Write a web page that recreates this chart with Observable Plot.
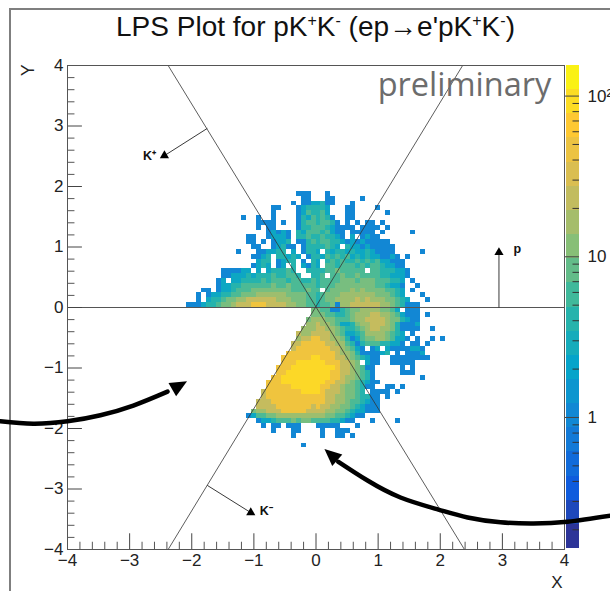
<!DOCTYPE html>
<html>
<head>
<meta charset="utf-8">
<script src="https://cdn.jsdelivr.net/npm/d3@7"></script>
<script src="https://cdn.jsdelivr.net/npm/@observablehq/plot@0.6"></script>
<style>
html,body{margin:0;padding:0;background:#fff;}
#page{position:relative;width:610px;height:591px;overflow:hidden;font-family:"Liberation Sans",Arial,sans-serif;}
#border{position:absolute;left:8.5px;top:7.5px;width:800px;height:800px;border:2px solid #7f7f7f;box-sizing:border-box;}
#title{position:absolute;left:0;top:12px;width:631px;text-align:center;font-size:28px;line-height:30px;color:#111;white-space:nowrap;}
#title sup{font-size:16px;line-height:0;vertical-align:baseline;position:relative;top:-10px;}
.layer{position:absolute;left:0;top:0;}
</style>
</head>
<body>
<div id="page">
<div id="border"></div>
<div id="colorbar" class="layer"></div>
<div id="main" class="layer"></div>
<div id="title">LPS Plot for pK<sup>+</sup>K<sup>-</sup> (ep→e'pK<sup>+</sup>K<sup>-</sup>)</div>
</div>
<script>
// Histogram: bin width 0.08. Each row is "left|right": the last left char is the bin just left of x=0,
// the first right char the bin just right of x=0. Characters are read levels, "." is an empty bin.
const binWidth = 0.08;
const levelCounts = [0, 1, 2.4, 4, 6.5, 10, 15, 24, 50, 85];

// rows above y=0, from y index 23 down to 0
const upperRows = [
"111.|..1",
"11.|..11.....1",
"1.112|2311...1",
"11...1233|332...11....1",
"1....1243|342...11......1",
"1..1..1....1324|3431..11",
"1111.1..1344|34431.1.1.11.1",
"1.11....1334|44321111.1111.1",
"12121.3244|434211.11111.1.....1",
"11..12221.3343|343321.2.1211",
"11.1.1223.1134|344332121211111",
"11..12311.133|33432.3221211111",
"1...112233.2.133|2.32332322321111.....1",
"1123.33232.13|32434342323221121.1",
"233.1233.1.3|2.3434334343422111",
"1232.12.3.213|2.4434443434432211",
"111122.2.233343..33|3344544444.44333221",
"1122232333433443..3|34.4454454444332221",
"12.22333343444344334|344445554555444332.1",
"12233444444544544444|344455555555443221..1",
"11.12234445555555544454|4.4555565655554432.1",
"1.1223344555666666555544|345556666666555432...1",
"1.2334556677777766655544|3455666676766655432...1",
"11123345567778887777665544|344516677777766543111"
];

// rows below y=0, from the row touching y=0 downwards
const lowerRows = [
"5|544113455666655 42.111",
"5|554433456667766542111.1",
"56|665544456677776553211",
"66|766542235667776531112",
"666|776654334567766531111..1",
"7667|777654223466665432.1",
"6778|8776653124556654221.1..1.1",
"77888|887766431344433221.11.1",
"78888|8887765421.12.21111221",
"888888|888876653111123.1.1112",
"8888889|9888776543211..11111111",
"8889999|998887765.211..11111",
"88899999|999987765411.....1.1",
"88999999|999887765431.....111",
"889999999|999887665431.........1",
"8889999999|9988776543211",
"8888899999|988776554311..11.1",
"78888888999|9877765543.1111.1",
"78888888888|8877665543311.1",
"777888888888|8877665443211",
"777788888887|8776655432111",
"5667778888877|7766554322111",
"12445566666666|6655443211",
"122344454554|44433211...1....1",
"1.11.111...|11111...1",
"1...11...|.1..111",
"1....|.1..11.1",
"|",
"1..|"
];

const wedgeA = [-2.38, 4, 2.39, -4];
const wedgeB = [2.36, 4, -2.38, -4];
const arrow1X = [-5.08, -4.55, -4.0, -3.47, -2.94, -2.39];
const arrow1Y = [-1.88, -1.92, -1.88, -1.78, -1.62, -1.39];
const arrow2X = [4.74, 4.05, 3.5, 2.97, 2.44, 1.97, 1.36, 0.83, 0.36];
const arrow2Y = [-3.44, -3.54, -3.57, -3.55, -3.47, -3.34, -3.14, -2.86, -2.55];
const directionLinks = [
  {x1: -1.75, y1: 2.96, x2: -2.44, y2: 2.51},
  {x1: -1.75, y1: -2.94, x2: -1.05, y2: -3.39},
  {x1: 2.945, y1: 0, x2: 2.945, y2: 0.91}
];
const directionLabels = [
  {x: -2.68, y: 2.5, t: "K⁺"},
  {x: -0.8, y: -3.37, t: "K⁻"},
  {x: 3.24, y: 0.96, t: "p"}
];
const axisValues = [-4, -3, -2, -1, 0, 1, 2, 3, 4];
const minorValues = d3.range(-20, 21).filter(i => i % 5 !== 0).map(i => i / 5);
const colorDomain = [0.153, 155];
const birdColors = ["#352A87", "#0F5CDD", "#1481D6", "#06A4CA", "#2EB7A4", "#87BF77", "#D1BB59", "#FEC832", "#F9FB0E"];
const colorbarMajor = [1, 10, 100];
const colorbarMinor = [0.2, 0.3, 0.4, 0.5, 0.6, 0.7, 0.8, 0.9, 2, 3, 4, 5, 6, 7, 8, 9, 20, 30, 40, 50, 60, 70, 80, 90];
const colorbarBandCount = 20;

const cells = [];
function addRow(text, rowIndex) {
  const [left, right] = text.replace(/ /g, "").split("|");
  [...left].forEach((c, i) => push(c, i - left.length, rowIndex));
  [...right].forEach((c, i) => push(c, i, rowIndex));
}
function push(c, col, rowIndex) {
  if (c === ".") return;
  cells.push({x1: col * binWidth, x2: (col + 1) * binWidth, y1: rowIndex * binWidth, y2: (rowIndex + 1) * binWidth, n: levelCounts[+c]});
}
upperRows.forEach((t, i) => addRow(t, upperRows.length - 1 - i));
lowerRows.forEach((t, i) => addRow(t, -1 - i));

const interpolate = d3.piecewise(d3.interpolateRgb, birdColors);
const colorOptions = {type: "log", domain: colorDomain, interpolate};
const noBg = {background: "transparent", fontFamily: '"Liberation Sans",Arial,sans-serif'};

const headSymbol = {draw(c, size) {
  const r = Math.sqrt(size / Math.PI);
  c.moveTo(0, -r * 1.3);
  c.lineTo(r * 0.9, r * 0.7);
  c.lineTo(-r * 0.9, r * 0.7);
  c.closePath();
}};
const pts = (xs, ys) => xs.map((x, i) => ({x, y: ys[i]}));

const main = Plot.plot({
  width: 610, height: 591,
  marginLeft: 67, marginRight: 46, marginTop: 65, marginBottom: 42,
  style: noBg,
  x: {domain: [-4, 4]},
  y: {domain: [-4, 4]},
  color: colorOptions,
  marks: [
    Plot.rect(cells, {x1: "x1", x2: "x2", y1: "y1", y2: "y2", fill: "n", shapeRendering: "crispEdges"}),
    Plot.ruleY([0], {stroke: "#555", strokeWidth: 1}),
    Plot.link([wedgeA, wedgeB], {x1: d => d[0], y1: d => d[1], x2: d => d[2], y2: d => d[3], stroke: "#333", strokeWidth: 0.8}),
    Plot.ruleX(axisValues, {x: d => d, y1: -4, y2: -3.74, stroke: "#444"}),
    Plot.ruleX(minorValues, {x: d => d, y1: -4, y2: -3.88, stroke: "#555"}),
    Plot.ruleY(axisValues, {y: d => d, x1: -4, x2: -3.76, stroke: "#444"}),
    Plot.ruleY(minorValues, {y: d => d, x1: -4, x2: -3.88, stroke: "#555"}),
    Plot.axisX({ticks: axisValues, tickSize: 0, tickPadding: 4, fontSize: 17, fill: "#222", label: null, tickFormat: d3.format("d")}),
    Plot.axisY({ticks: axisValues, tickSize: 0, tickPadding: 4, fontSize: 17, fill: "#222", label: null, tickFormat: d3.format("d")}),
    Plot.frame({stroke: "#555", strokeWidth: 1}),
    Plot.text(["X"], {x: 3.88, y: -4.54, text: d => d, fontSize: 17, fill: "#222"}),
    Plot.text(["Y"], {x: -4.64, y: 3.92, text: d => d, fontSize: 18, fill: "#222", rotate: -90}),
    Plot.text(["preliminary"], {x: 2.39, y: 3.67, text: d => d, fontSize: 32.5, fill: "#6c6c6c", fontFamily: '"Open Sans"'}),
    Plot.link(directionLinks, {x1: "x1", y1: "y1", x2: "x2", y2: "y2", stroke: "#222", strokeWidth: 0.9}),
    Plot.dot(directionLinks, {x: "x2", y: "y2", symbol: "triangle", r: 3.4, fill: "#000", stroke: "none"}),
    Plot.text(directionLabels, {x: "x", y: "y", text: "t", fontSize: 12.5, fontWeight: "bold", fill: "#111"}),
    Plot.line(pts(arrow1X, arrow1Y), {x: "x", y: "y", curve: "natural", stroke: "#000", strokeWidth: 4.5}),
    Plot.line(pts(arrow2X, arrow2Y), {x: "x", y: "y", curve: "natural", stroke: "#000", strokeWidth: 4.5}),
    Plot.dot([{x: -2.23, y: -1.31}], {x: "x", y: "y", symbol: headSymbol, r: 8.5, rotate: 60, fill: "#000", stroke: "none"}),
    Plot.dot([{x: 0.27, y: -2.46}], {x: "x", y: "y", symbol: headSymbol, r: 8.5, rotate: -49, fill: "#000", stroke: "none"})
  ]
});
document.getElementById("main").appendChild(main);

const ratio = Math.pow(colorDomain[1] / colorDomain[0], 1 / colorbarBandCount);
const bands = d3.range(colorbarBandCount).map(i => {
  const lo = colorDomain[0] * Math.pow(ratio, i), hi = lo * ratio;
  return {lo, hi, mid: Math.sqrt(lo * hi)};
});
const bar = Plot.plot({
  width: 610, height: 591,
  marginLeft: 566, marginRight: 31, marginTop: 65, marginBottom: 43,
  style: noBg,
  x: {domain: [0, 1], axis: null},
  y: {type: "log", domain: colorDomain, axis: null},
  color: colorOptions,
  marks: [
    Plot.rect(bands, {x1: 0, x2: 1, y1: "lo", y2: "hi", fill: "mid", shapeRendering: "crispEdges"}),
    Plot.ruleY(colorbarMajor, {y: d => d, x1: -0.15, x2: 1, stroke: "#444", strokeWidth: 1}),
    Plot.ruleY(colorbarMinor, {y: d => d, x1: 0.5, x2: 1, stroke: "#333", strokeWidth: 1}),
    Plot.text(colorbarMajor, {x: 1, y: d => d, dx: 8, text: d => d === 100 ? "10²" : String(d), textAnchor: "start", fontSize: 17, fill: "#222"})
  ]
});
document.getElementById("colorbar").appendChild(bar);
</script>
</body>
</html>
